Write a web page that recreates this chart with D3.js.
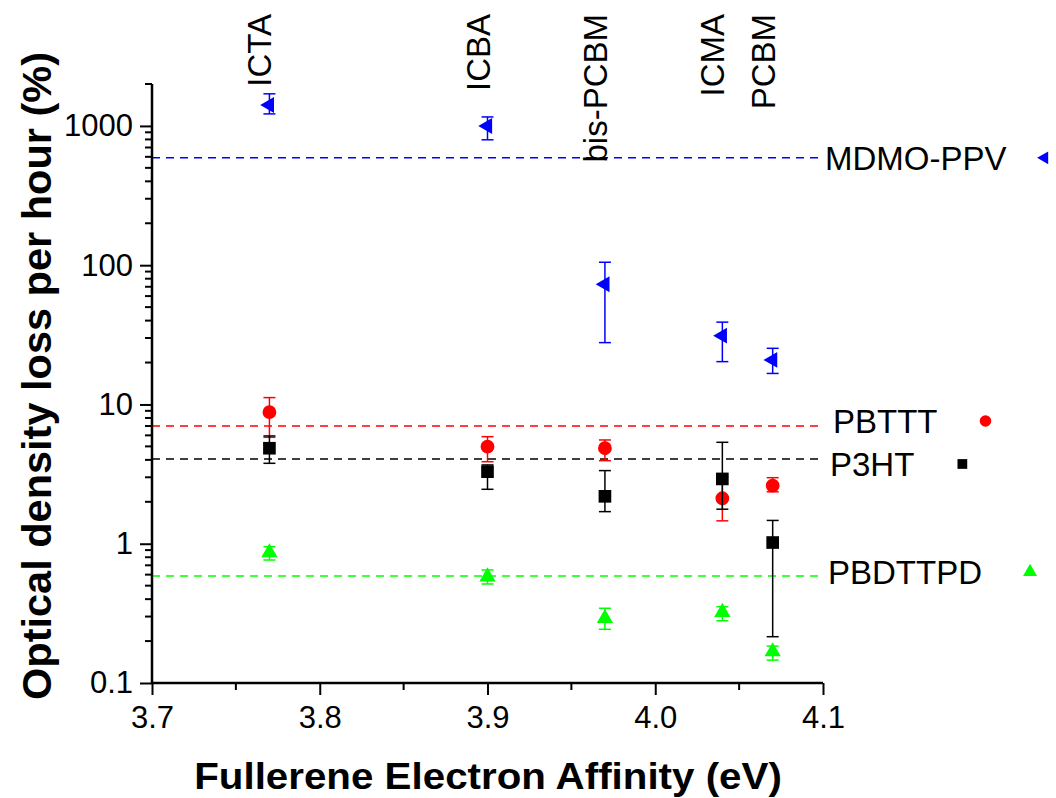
<!DOCTYPE html>
<html>
<head>
<meta charset="utf-8">
<script src="https://cdn.jsdelivr.net/npm/d3@7"></script>
<style>
  html, body { margin: 0; padding: 0; background: #fff; }
  text { font-family: "Liberation Sans", Arial, sans-serif; }
</style>
</head>
<body>
<div id="container"></div>
<script>
// fullerene acceptors along the x axis
var fullerenes = ["ICTA", "ICBA", "bis-PCBM", "ICMA", "PCBM"]
var affinity = [3.77, 3.90, 3.97, 4.04, 4.07]

// polymers, their colours and the reference (neat film) loss rates
var polymers = ["MDMO-PPV", "PBTTT", "P3HT", "PBDTTPD"]
var colours = ["#0000ff", "#ff0000", "#000000", "#00ff00"]
var polymerRef = [590, 7.0, 4.06, 0.587]

// loss per hour (%) for each blend, with error bar ends
var mdmoVal = [1415, 1000, 73, 31.2, 20.9]
var mdmoHi  = [1700, 1160, 105, 39, 25.3]
var mdmoLo  = [1220, 795, 27.8, 20.3, 16.7]

var pbtttVal = [8.8, 4.98, 4.85, 2.12, 2.61]
var pbtttHi  = [11.2, 5.87, 5.56, 3.03, 2.98]
var pbtttLo  = [5.81, 3.88, 3.95, 1.46, 2.36]

var p3htVal = [4.85, 3.29, 2.19, 2.92, 1.02]
var p3htHi  = [5.94, 3.68, 3.35, 5.35, 1.47]
var p3htLo  = [3.78, 2.46, 1.70, 1.77, 0.215]

var pbdtVal = [0.863, 0.580, 0.291, 0.322, 0.168]
var pbdtHi  = [0.952, 0.648, 0.344, 0.353, 0.184]
var pbdtLo  = [0.764, 0.514, 0.243, 0.280, 0.146]

var xTicks = [3.7, 3.8, 3.9, 4.0, 4.1]
var yTicks = [0.1, 1, 10, 100, 1000]

var series = [
  {val: mdmoVal, hi: mdmoHi, lo: mdmoLo},
  {val: pbtttVal, hi: pbtttHi, lo: pbtttLo},
  {val: p3htVal, hi: p3htHi, lo: p3htLo},
  {val: pbdtVal, hi: pbdtHi, lo: pbdtLo}
]
// symbol type + rotation for each polymer
var shapes = [
  {type: d3.symbolTriangle, rot: -90, size: 110, legend: 70},
  {type: d3.symbolCircle, rot: 0, size: 150, legend: 105},
  {type: d3.symbolSquare, rot: 0, size: 160, legend: 95},
  {type: d3.symbolTriangle, rot: 0, size: 115, legend: 85}
]
// small shifts for the polymer labels on the right
var labelNudge = [{dx: 2, dy: 0}, {dx: 10, dy: -5}, {dx: 7, dy: 5}, {dx: 5, dy: -4}]

var width = 1056, height = 798
var mLeft = 152, mRight = 823, mTop = 84, mBottom = 683

var svg = d3.select("#container").append("svg")
    .attr("width", width)
    .attr("height", height)

var x = d3.scaleLinear().domain([3.7, 4.1]).range([mLeft, mRight])
var y = d3.scaleLog().domain([0.1, 2000]).range([mBottom, mTop])

// reference dashed lines
svg.selectAll(".ref")
  .data(polymerRef)
  .enter().append("line")
    .attr("class", "ref")
    .attr("x1", mLeft)
    .attr("x2", mRight)
    .attr("y1", function(d) { return y(d) })
    .attr("y2", function(d) { return y(d) })
    .attr("stroke", function(d, i) { return colours[i] })
    .attr("stroke-width", 1.5)
    .attr("stroke-dasharray", "8,6")

// fullerene names above the points
svg.selectAll(".fname")
  .data(fullerenes)
  .enter().append("text")
    .attr("class", "fname")
    .attr("transform", function(d, i) { return "translate(" + (x(affinity[i]) + 2) + ",14) rotate(-90)" })
    .attr("text-anchor", "end")
    .attr("font-size", "33px")
    .attr("fill", "#000")
    .text(function(d) { return d })

// axes
var xAxis = d3.axisBottom(x).tickValues(xTicks).tickFormat(d3.format(".1f")).tickSize(12).tickPadding(11)
var yAxis = d3.axisLeft(y).tickValues(yTicks).tickFormat(function(d) { return d < 1 ? "0.1" : d3.format("d")(d) }).tickSize(12).tickPadding(7)

var gx = svg.append("g").attr("transform", "translate(0," + mBottom + ")").call(xAxis)
var gy = svg.append("g").attr("transform", "translate(" + mLeft + ",0)").call(yAxis)

// minor ticks
var xMinor = d3.range(3.75, 4.1, 0.1)
gx.selectAll(".minor").data(xMinor).enter().append("line")
    .attr("class", "minor")
    .attr("x1", function(d) { return x(d) }).attr("x2", function(d) { return x(d) })
    .attr("y1", 0).attr("y2", 7)
var yMinor = []
yTicks.forEach(function(t) { for (var k = 2; k <= 9; k++) { if (t * k <= 2000) yMinor.push(t * k) } })
gy.selectAll(".minor").data(yMinor).enter().append("line")
    .attr("class", "minor")
    .attr("y1", function(d) { return y(d) }).attr("y2", function(d) { return y(d) })
    .attr("x1", 0).attr("x2", -7)

;[gx, gy].forEach(function(g) {
  g.select(".domain").attr("d", g === gx ? "M" + mLeft + ",0H" + mRight : "M0," + mTop + "V" + mBottom)
    .attr("stroke", "#000").attr("stroke-width", 2.5)
  g.selectAll(".tick line, .minor").attr("stroke", "#000").attr("stroke-width", 2)
  g.selectAll(".tick text").attr("font-size", "31px").attr("fill", "#000")
    .attr("font-family", "'Liberation Sans', Arial, sans-serif")
})

// axis titles
svg.append("text")
    .attr("transform", "translate(488,789) scale(1.09,1)")
    .attr("text-anchor", "middle")
    .attr("font-size", "37px")
    .attr("font-weight", "bold")
    .text("Fullerene Electron Affinity (eV)")

svg.append("text")
    .attr("transform", "translate(51,376) rotate(-90)")
    .attr("text-anchor", "middle")
    .attr("font-size", "41.5px")
    .attr("font-weight", "bold")
    .text("Optical density loss per hour (%)")

// data: error bars then markers
series.forEach(function(s, si) {
  var g = svg.append("g")
  var col = colours[si]
  var pts = affinity.map(function(a, i) { return {x: a, v: s.val[i], hi: s.hi[i], lo: s.lo[i]} })

  g.selectAll(".bar").data(pts).enter().append("line")
      .attr("x1", function(d) { return x(d.x) }).attr("x2", function(d) { return x(d.x) })
      .attr("y1", function(d) { return y(d.hi) }).attr("y2", function(d) { return y(d.lo) })
      .attr("stroke", col).attr("stroke-width", 1.5)
  ;["hi", "lo"].forEach(function(k) {
    g.selectAll(".cap-" + k).data(pts).enter().append("line")
        .attr("x1", function(d) { return x(d.x) - 6 }).attr("x2", function(d) { return x(d.x) + 6 })
        .attr("y1", function(d) { return y(d[k]) }).attr("y2", function(d) { return y(d[k]) })
        .attr("stroke", col).attr("stroke-width", 1.5)
  })

  var sym = d3.symbol().type(shapes[si].type).size(shapes[si].size)
  g.selectAll(".pt").data(pts).enter().append("path")
      .attr("d", sym)
      .attr("transform", function(d) { return "translate(" + x(d.x) + "," + y(d.v) + ") rotate(" + shapes[si].rot + ")" })
      .attr("fill", col)
})

// polymer labels on the right with a marker
polymers.forEach(function(name, i) {
  var ly = y(polymerRef[i]) + labelNudge[i].dy
  var t = svg.append("text")
      .attr("x", mRight + labelNudge[i].dx)
      .attr("y", ly)
      .attr("dy", "0.36em")
      .attr("font-size", "33px")
      .attr("fill", "#000")
      .text(name)
  var len = t.node().getComputedTextLength()
  var sym = d3.symbol().type(shapes[i].type).size(shapes[i].legend)
  svg.append("path")
      .attr("d", sym)
      .attr("transform", "translate(" + (mRight + labelNudge[i].dx + len + (i === 0 ? 38 : 48)) + "," + ly + ") rotate(" + shapes[i].rot + ")")
      .attr("fill", colours[i])
})
</script>
</body>
</html>
